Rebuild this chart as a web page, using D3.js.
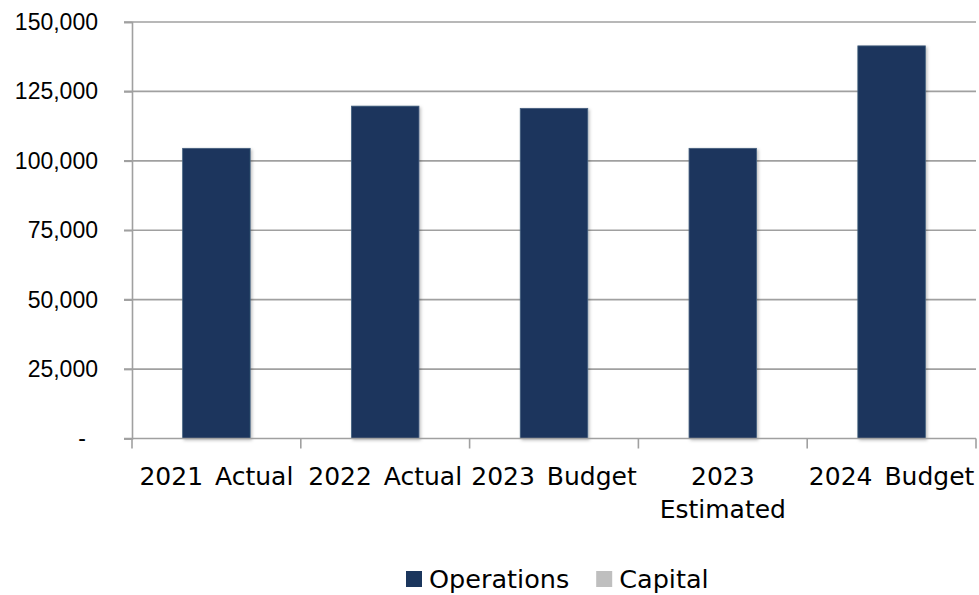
<!DOCTYPE html>
<html>
<head>
<meta charset="utf-8">
<script src="https://cdn.jsdelivr.net/npm/d3@7"></script>
<style>
  html, body { margin: 0; padding: 0; background: #fff; }
  svg { display: block; font-family: "DejaVu Sans", "Noto Sans", sans-serif; }
</style>
</head>
<body>
<svg id="chart" width="979" height="595"></svg>
<script>
// Budget overview: operations and capital spending by year
const categories = ["2021 Actual", "2022 Actual", "2023 Budget", "2023 Estimated", "2024 Budget"];
const operations = [104500, 119700, 118900, 104500, 141400];
const capital = [0, 0, 0, 0, 0];
const seriesNames = ["Operations", "Capital"];
const yTicks = [0, 25000, 50000, 75000, 100000, 125000, 150000];

const colors = { Operations: "#1b365d", Capital: "#bfbfbf" };

const svg = d3.select("#chart");
const margin = { left: 132, right: 3, top: 22, bottom: 156.5 };
const W = 979, H = 595;

const rows = categories.map((c, i) => ({ category: c, Operations: operations[i], Capital: capital[i] }));
const stacked = d3.stack().keys(seriesNames)(rows);

const x = d3.scaleBand()
  .domain(categories)
  .range([margin.left, W - margin.right])
  .paddingInner(0.6)
  .paddingOuter(0.3);

const y = d3.scaleLinear()
  .domain([0, 150000])
  .range([H - margin.bottom, margin.top]);

// soft shadow under the bars
const defs = svg.append("defs");
const f = defs.append("filter").attr("id", "shadow")
  .attr("x", "-20%").attr("y", "-20%").attr("width", "140%").attr("height", "140%");
f.append("feDropShadow").attr("dx", 1.5).attr("dy", 1.5).attr("stdDeviation", 1.6)
  .attr("flood-color", "#000").attr("flood-opacity", 0.25);

// gridlines
svg.append("g")
  .selectAll("line")
  .data(yTicks.filter(d => d > 0))
  .join("line")
  .attr("x1", margin.left - 8)
  .attr("x2", W - margin.right)
  .attr("y1", d => y(d))
  .attr("y2", d => y(d))
  .attr("stroke", "#a0a0a0")
  .attr("stroke-width", 1.6);

// y axis
const yAxis = svg.append("g")
  .attr("transform", `translate(${margin.left},0)`)
  .call(d3.axisLeft(y).tickValues(yTicks).tickSize(8).tickPadding(26)
    .tickFormat(d => d === 0 ? "-" : d3.format(",")(d)));
yAxis.select(".domain").attr("stroke", "#a0a0a0").attr("stroke-width", 1.6);
yAxis.selectAll(".tick line").attr("stroke", "#a0a0a0").attr("stroke-width", 1.6);
yAxis.selectAll(".tick text")
  .attr("fill", "#000")
  .style("font-size", "23px")
  .attr("dx", d => d === 0 ? -12 : 0);

// bars
svg.append("g")
  .selectAll("g")
  .data(stacked)
  .join("g")
  .attr("fill", d => colors[d.key])
  .selectAll("rect")
  .data(d => d.filter(p => p[1] - p[0] > 0))
  .join("rect")
  .attr("x", d => x(d.data.category))
  .attr("width", x.bandwidth())
  .attr("y", d => y(d[1]))
  .attr("height", d => y(d[0]) - y(d[1]))
  .attr("stroke", "#45607f")
  .attr("stroke-width", 0.8)
  .attr("filter", "url(#shadow)");

// x axis with ticks at category boundaries
const step = x.step();
const x0 = y(0);
const xg = svg.append("g");
xg.append("line")
  .attr("x1", margin.left - 8).attr("x2", W - margin.right)
  .attr("y1", x0).attr("y2", x0)
  .attr("stroke", "#a0a0a0").attr("stroke-width", 1.6);
const boundaries = categories.map(c => x(c) - step * 0.3).concat([W - margin.right]);
xg.selectAll("line.tick")
  .data(boundaries)
  .join("line")
  .attr("class", "tick")
  .attr("x1", d => d).attr("x2", d => d)
  .attr("y1", x0).attr("y2", x0 + 10)
  .attr("stroke", "#a0a0a0").attr("stroke-width", 1.6);

// category labels, wrapped to the category width
const labelSize = 25;
const labels = xg.selectAll("text.cat")
  .data(categories)
  .join("text")
  .attr("class", "cat")
  .attr("text-anchor", "middle")
  .attr("fill", "#000")
  .style("font-size", labelSize + "px")
  .style("word-spacing", "4px")
  .attr("x", d => x(d) + x.bandwidth() / 2)
  .attr("y", x0 + 46);

labels.each(function (d) {
  const t = d3.select(this);
  const words = d.split(" ");
  t.text(d);
  if (this.getComputedTextLength() > step * 1.05) {
    t.text(null);
    words.forEach((w, i) => {
      t.append("tspan")
        .attr("x", x(d) + x.bandwidth() / 2)
        .attr("dy", i === 0 ? 0 : 33)
        .text(w);
    });
  }
});

// legend
const legend = svg.append("g").attr("transform", "translate(406,579)");
let lx = 0;
seriesNames.forEach(name => {
  const g = legend.append("g").attr("transform", `translate(${lx},0)`);
  g.append("rect").attr("x", 0).attr("y", -8).attr("width", 16).attr("height", 16)
    .attr("fill", colors[name]);
  const t = g.append("text").attr("x", 23).attr("y", 0).attr("dy", "0.36em")
    .attr("fill", "#000").style("font-size", "25.5px").text(name);
  lx += 23 + t.node().getComputedTextLength() + 27;
});
</script>
</body>
</html>
